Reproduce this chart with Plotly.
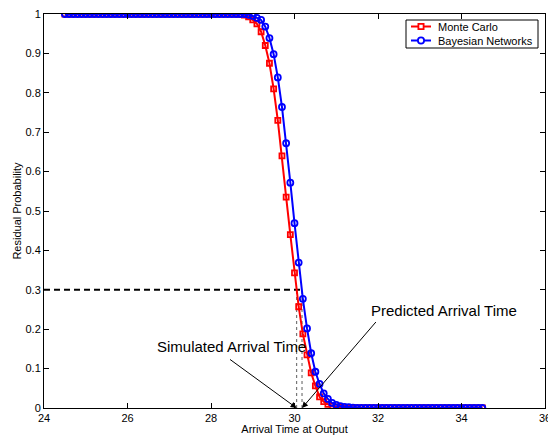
import plotly.graph_objects as go

# ---- data ----
arrival_time = [
    24.5, 24.6, 24.7, 24.8, 24.9, 25.0, 25.1, 25.2, 25.3, 25.4,
    25.5, 25.6, 25.7, 25.8, 25.9, 26.0, 26.1, 26.2, 26.3, 26.4,
    26.5, 26.6, 26.7, 26.8, 26.9, 27.0, 27.1, 27.2, 27.3, 27.4,
    27.5, 27.6, 27.7, 27.8, 27.9, 28.0, 28.1, 28.2, 28.3, 28.4,
    28.5, 28.6, 28.7, 28.8, 28.9, 29.0, 29.1, 29.2, 29.3, 29.4,
    29.5, 29.6, 29.7, 29.8, 29.9, 30.0, 30.1, 30.2, 30.3, 30.4,
    30.5, 30.6, 30.7, 30.8, 30.9, 31.0, 31.1, 31.2, 31.3, 31.4,
    31.5, 31.6, 31.7, 31.8, 31.9, 32.0, 32.1, 32.2, 32.3, 32.4,
    32.5, 32.6, 32.7, 32.8, 32.9, 33.0, 33.1, 33.2, 33.3, 33.4,
    33.5, 33.6, 33.7, 33.8, 33.9, 34.0, 34.1, 34.2, 34.3, 34.4,
    34.5,
]

monte_carlo = [
    1.0, 1.0, 1.0, 1.0, 1.0, 1.0, 1.0, 1.0, 1.0, 1.0,
    1.0, 1.0, 1.0, 1.0, 1.0, 1.0, 1.0, 1.0, 1.0, 1.0,
    1.0, 1.0, 1.0, 1.0, 1.0, 1.0, 1.0, 1.0, 1.0, 1.0,
    1.0, 1.0, 1.0, 1.0, 1.0, 1.0, 1.0, 1.0, 1.0, 1.0,
    1.0, 1.0, 0.999, 0.997, 0.993, 0.985, 0.975, 0.955, 0.92, 0.875,
    0.81, 0.73, 0.64, 0.535, 0.44, 0.343, 0.257, 0.188, 0.135, 0.089,
    0.056, 0.028, 0.016, 0.009, 0.005, 0.003, 0.002, 0.001, 0.0, 0.0,
    0.0, 0.0, 0.0, 0.0, 0.0, 0.0, 0.0, 0.0, 0.0, 0.0,
    0.0, 0.0, 0.0, 0.0, 0.0, 0.0, 0.0, 0.0, 0.0, 0.0,
    0.0, 0.0, 0.0, 0.0, 0.0, 0.0, 0.0, 0.0, 0.0, 0.0,
    0.0,
]

bayesian_networks = [
    1.0, 1.0, 1.0, 1.0, 1.0, 1.0, 1.0, 1.0, 1.0, 1.0,
    1.0, 1.0, 1.0, 1.0, 1.0, 1.0, 1.0, 1.0, 1.0, 1.0,
    1.0, 1.0, 1.0, 1.0, 1.0, 1.0, 1.0, 1.0, 1.0, 1.0,
    1.0, 1.0, 1.0, 1.0, 1.0, 1.0, 1.0, 1.0, 1.0, 1.0,
    1.0, 1.0, 1.0, 1.0, 0.998, 0.995, 0.99, 0.985, 0.968, 0.939,
    0.898, 0.839, 0.764, 0.672, 0.572, 0.469, 0.369, 0.277, 0.202, 0.139,
    0.092, 0.061, 0.037, 0.023, 0.013, 0.008, 0.005, 0.003, 0.002, 0.001,
    0.0, 0.0, 0.0, 0.0, 0.0, 0.0, 0.0, 0.0, 0.0, 0.0,
    0.0, 0.0, 0.0, 0.0, 0.0, 0.0, 0.0, 0.0, 0.0, 0.0,
    0.0, 0.0, 0.0, 0.0, 0.0, 0.0, 0.0, 0.0, 0.0, 0.0,
    0.0,
]

series_names = ["Monte Carlo", "Bayesian Networks"]
series_colors = ["#ff0000", "#0000ff"]
x_tick_values = [24, 26, 28, 30, 32, 34, 36]
y_tick_values = [0, 0.1, 0.2, 0.3, 0.4, 0.5, 0.6, 0.7, 0.8, 0.9, 1]
y_tick_labels = ["0", "0.1", "0.2", "0.3", "0.4", "0.5", "0.6", "0.7", "0.8", "0.9", "1"]

threshold = 0.3
simulated_arrival = 30.05
predicted_arrival = 30.18
x_title = "Arrival Time at Output"
y_title = "Residual Probability"
simulated_label = "Simulated Arrival Time"
predicted_label = "Predicted Arrival Time"

FONT = "Liberation Sans, Arial, Helvetica, sans-serif"

# layout geometry (pixels)
W, H = 548, 435
ML, MR, MT, MB = 44, 3, 14, 27
PW, PH = W - ML - MR, H - MT - MB


def px_x(p):
    return (p - ML) / PW


def px_y(p):
    return (H - MB - p) / PH


fig = go.Figure()
fig.add_trace(go.Scatter(
    x=arrival_time, y=monte_carlo, name=series_names[0],
    mode="lines+markers", showlegend=False,
    line=dict(color=series_colors[0], width=2),
    marker=dict(symbol="square-open", size=5, color=series_colors[0],
                line=dict(width=1.8, color=series_colors[0])),
))
fig.add_trace(go.Scatter(
    x=arrival_time, y=bayesian_networks, name=series_names[1],
    mode="lines+markers", showlegend=False,
    line=dict(color=series_colors[1], width=2),
    marker=dict(symbol="circle-open", size=6, color=series_colors[1],
                line=dict(width=1.8, color=series_colors[1])),
))

# dashed threshold line and dotted drops
fig.add_shape(type="line", xref="x", yref="y", x0=24, x1=predicted_arrival,
              y0=threshold, y1=threshold, layer="below",
              line=dict(color="black", width=2, dash="6px,4px"))
for xv in (simulated_arrival, predicted_arrival):
    fig.add_shape(type="line", xref="x", yref="y", x0=xv, x1=xv,
                  y0=0, y1=threshold, layer="below",
                  line=dict(color="#777777", width=1.2, dash="dot"))

# arrows
fig.add_annotation(x=simulated_arrival, y=0, ax=28.42, ay=0.126,
                   xref="x", yref="y", axref="x", ayref="y",
                   text="", showarrow=True, arrowhead=2, arrowsize=1.2,
                   arrowwidth=1, arrowcolor="black")
fig.add_annotation(x=predicted_arrival, y=0, ax=31.98, ay=0.222,
                   xref="x", yref="y", axref="x", ayref="y",
                   text="", showarrow=True, arrowhead=2, arrowsize=1.2,
                   arrowwidth=1, arrowcolor="black")
fig.add_annotation(x=28.48, y=0.156, xref="x", yref="y", text=simulated_label,
                   showarrow=False, font=dict(family=FONT, size=15, color="black"))
fig.add_annotation(x=33.59, y=0.247, xref="x", yref="y", text=predicted_label,
                   showarrow=False, font=dict(family=FONT, size=15, color="black"))

# compact legend (MATLAB style)
fig.add_shape(type="rect", xref="paper", yref="paper",
              x0=px_x(406), x1=px_x(538), y0=px_y(48), y1=px_y(20),
              fillcolor="white", line=dict(color="black", width=1), layer="above")
legend_rows = [26.5, 40.5]
for i, name in enumerate(series_names):
    yy = px_y(legend_rows[i])
    fig.add_shape(type="line", xref="paper", yref="paper",
                  x0=px_x(411), x1=px_x(431), y0=yy, y1=yy,
                  line=dict(color=series_colors[i], width=2), layer="above")
    fig.add_shape(type="rect" if i == 0 else "circle",
                  xref="paper", yref="paper",
                  xsizemode="pixel", ysizemode="pixel",
                  xanchor=px_x(421), yanchor=yy,
                  x0=-2.6 if i == 0 else -3.1, x1=2.6 if i == 0 else 3.1,
                  y0=-2.6 if i == 0 else -3.1, y1=2.6 if i == 0 else 3.1,
                  fillcolor="white", line=dict(color=series_colors[i], width=1.8),
                  layer="above")
    fig.add_annotation(x=px_x(436), y=yy, xref="paper", yref="paper",
                       text=name, showarrow=False, xanchor="left", yanchor="middle",
                       font=dict(family=FONT, size=11, color="black"))

axis_common = dict(
    showline=True, linecolor="black", linewidth=1, mirror="ticks",
    ticks="inside", ticklen=5, tickwidth=1, tickcolor="black",
    showgrid=False, zeroline=False, automargin=False,
    ticklabeloverflow="allow",
    tickfont=dict(family=FONT, size=11, color="black"),
)

fig.update_xaxes(range=[24, 36], tickvals=x_tick_values,
                 title=dict(text=x_title, font=dict(family=FONT, size=11, color="black"),
                            standoff=6),
                 **axis_common)
fig.update_yaxes(range=[0, 1], tickvals=y_tick_values, ticktext=y_tick_labels,
                 title=dict(text=y_title, font=dict(family=FONT, size=11, color="black"),
                            standoff=1),
                 **axis_common)

fig.update_layout(
    width=W, height=H,
    margin=dict(l=ML, r=MR, t=MT, b=MB, pad=0),
    paper_bgcolor="white", plot_bgcolor="white",
    font=dict(family=FONT, size=11, color="black"),
    showlegend=False,
)

fig.write_html("out.html",
               config={"displayModeBar": False},
               post_script="document.body.style.margin='0';document.body.style.padding='0';")
